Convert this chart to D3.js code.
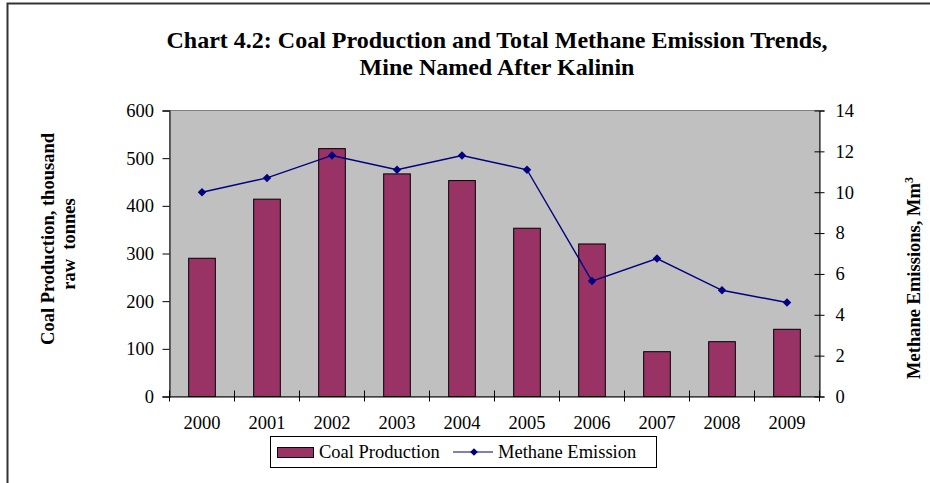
<!DOCTYPE html>
<html><head><meta charset="utf-8">
<script src="https://cdn.jsdelivr.net/npm/d3@7"></script>
<style>body{margin:0;background:#fff}svg{display:block}text{font-family:"Liberation Serif","Times New Roman",serif}</style>
</head><body>
<script>
const years = ["2000","2001","2002","2003","2004","2005","2006","2007","2008","2009"];
const coalProduction = [290, 414, 520, 467, 453, 353, 320, 94, 115, 141];
const methaneEmission = [10.0, 10.7, 11.8, 11.1, 11.8, 11.1, 5.65, 6.75, 5.2, 4.6];
const leftTicks = [0,100,200,300,400,500,600];
const rightTicks = [0,2,4,6,8,10,12,14];

const W = 930, H = 483;
const m = {l:169.5, r:819.5, t:110.5, b:396.5};
const FS = 18.5;
const svg = d3.select("body").append("svg").attr("width",W).attr("height",H);

// outer frame
svg.append("rect").attr("x",7.5).attr("y",3.5).attr("width",W+20).attr("height",H+20)
  .attr("fill","none").attr("stroke","#333").attr("stroke-width",2);

const x = d3.scaleBand().domain(years).range([m.l,m.r]).paddingInner(0).paddingOuter(0);
const y = d3.scaleLinear().domain([0,600]).range([m.b,m.t]);
const y2 = d3.scaleLinear().domain([0,14]).range([m.b,m.t]);

svg.append("rect").attr("x",m.l).attr("y",m.t).attr("width",m.r-m.l).attr("height",m.b-m.t)
  .attr("fill","#c0c0c0").attr("stroke","#808080").attr("stroke-width",1);

const bw = x.bandwidth()*0.41;
svg.append("g").selectAll("rect").data(years).join("rect")
  .attr("x",d=>x(d)+x.bandwidth()/2-bw/2)
  .attr("y",(d,i)=>y(coalProduction[i]))
  .attr("width",bw)
  .attr("height",(d,i)=>m.b-y(coalProduction[i]))
  .attr("fill","#993366").attr("stroke","#000").attr("stroke-width",1);

function styleText(g){
  g.attr("font-size",FS).attr("font-family","Liberation Serif");
  g.selectAll("text").attr("font-size",FS).attr("fill","#000");
}

// left axis
const gl = svg.append("g").attr("transform",`translate(${m.l},0)`)
  .call(d3.axisLeft(y).tickValues(leftTicks).tickSize(7).tickPadding(8.5).tickFormat(d3.format("d")));
gl.select(".domain").attr("stroke","#404040").attr("stroke-width",1.5);
styleText(gl);

// right axis
const gr = svg.append("g").attr("transform",`translate(${m.r},0)`)
  .call(d3.axisRight(y2).tickValues(rightTicks).tickSize(5).tickPadding(11).tickFormat(d3.format("d")));
gr.select(".domain").attr("stroke","#000");
gr.selectAll(".tick line").attr("x1",-5);
styleText(gr);

// bottom axis
const gb = svg.append("g").attr("transform",`translate(0,${m.b})`)
  .call(d3.axisBottom(x).tickSize(0).tickPadding(19));
gb.select(".domain").attr("stroke","#000").attr("stroke-width",1.2);
styleText(gb);
const bounds = years.map(d=>x(d)).concat([m.r]);
gb.append("g").selectAll("line").data(bounds).join("line")
  .attr("x1",d=>d).attr("x2",d=>d).attr("y1",-6).attr("y2",5).attr("stroke","#000");

// line
const cx = i => x(years[i])+x.bandwidth()/2;
const line = d3.line().x((d,i)=>cx(i)).y(d=>y2(d));
svg.append("path").datum(methaneEmission).attr("d",line).attr("fill","none").attr("stroke","#000080").attr("stroke-width",1.4);
const diamond = d3.symbol().type(d3.symbolSquare).size(36);
svg.append("g").selectAll("path").data(methaneEmission).join("path")
  .attr("transform",(d,i)=>`translate(${cx(i)},${y2(d)}) rotate(45)`)
  .attr("d",diamond).attr("fill","#000080");

// titles
const title = svg.append("text").attr("text-anchor","middle").attr("font-weight","bold").attr("font-size",24);
title.append("tspan").attr("x",497).attr("y",48).text("Chart 4.2: Coal Production and Total Methane Emission Trends,");
title.append("tspan").attr("x",497).attr("y",75).text("Mine Named After Kalinin");

const lt = svg.append("text").attr("text-anchor","middle").attr("font-weight","bold").attr("font-size",FS)
  .style("white-space","pre")
  .attr("transform","translate(54,240) rotate(-90)");
lt.append("tspan").attr("x",1).attr("y",0).text("Coal Production, thousand");
lt.append("tspan").attr("x",-4).attr("y",21).style("white-space","pre").text("raw  tonnes");

const rt = svg.append("text").attr("text-anchor","middle").attr("font-weight","bold").attr("font-size",FS)
  .attr("transform","translate(920,278) rotate(-90)");
rt.append("tspan").text("Methane Emissions, Mm");
rt.append("tspan").attr("font-size",12).attr("dy",-7).text("3");

// legend
const lg = svg.append("g");
lg.append("rect").attr("x",270.5).attr("y",436.5).attr("width",386).attr("height",31).attr("fill","#fff").attr("stroke","#000");
lg.append("rect").attr("x",277.5).attr("y",447.5).attr("width",36).attr("height",10).attr("fill","#993366").attr("stroke","#000");
lg.append("text").attr("x",319).attr("y",458).attr("font-size",FS).text("Coal Production");
lg.append("line").attr("x1",453).attr("x2",493).attr("y1",452).attr("y2",452).attr("stroke","#000080").attr("stroke-width",1.2);
lg.append("path").attr("transform","translate(474,452) rotate(45)").attr("d",d3.symbol().type(d3.symbolSquare).size(30)).attr("fill","#000080");
lg.append("text").attr("x",498).attr("y",458).attr("font-size",FS).text("Methane Emission");
</script>
</body></html>
